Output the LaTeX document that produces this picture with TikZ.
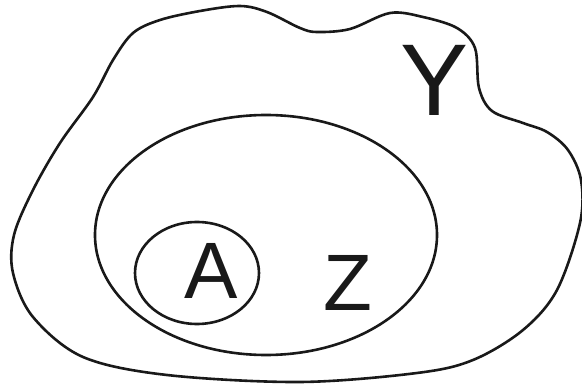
\documentclass[tikz,border=0pt]{standalone}
\usepackage{fontspec}
\setmainfont{Liberation Sans}
\usetikzlibrary{shapes.geometric}
\begin{document}
\begin{tikzpicture}[x=1pt,y=-1pt,
  setline/.style={line width=2.6pt,draw=black!90},
  setlabel/.style={inner sep=0pt,font=\fontsize{80}{80}\selectfont,text=black!90}]
\useasboundingbox (0,0) rectangle (582,385);
\draw[setline] plot[smooth cycle,tension=0.55] coordinates {
 (113,60) (133,33) (160,20) (200,11) (240,6) (267,12) (300,28) (317,32) (350,29)
 (390,13) (423,17) (457,28) (475,48) (479,88) (492,111) (523,123) (547,132)
 (568,150) (581,180) (580,223) (557,290) (523,330) (473,360) (417,373)
 (300,382) (167,375) (83,357) (33,317) (13,273) (14,235) (33,190) (60,143) (93,97)};
\node[setline,draw,ellipse,minimum width=342pt,minimum height=240pt,inner sep=0pt] (z) at (266,235) {};
\node[setline,draw,ellipse,minimum width=124pt,minimum height=102pt,inner sep=0pt] (a) at (197,273) {};
\node[setlabel] (la) at (211,271) {A};
\node[setlabel] (lz) at (348,283) {Z};
\node[setlabel,font=\fontsize{102}{102}\selectfont] (ly) at (435,80) {Y};
\end{tikzpicture}
\end{document}
